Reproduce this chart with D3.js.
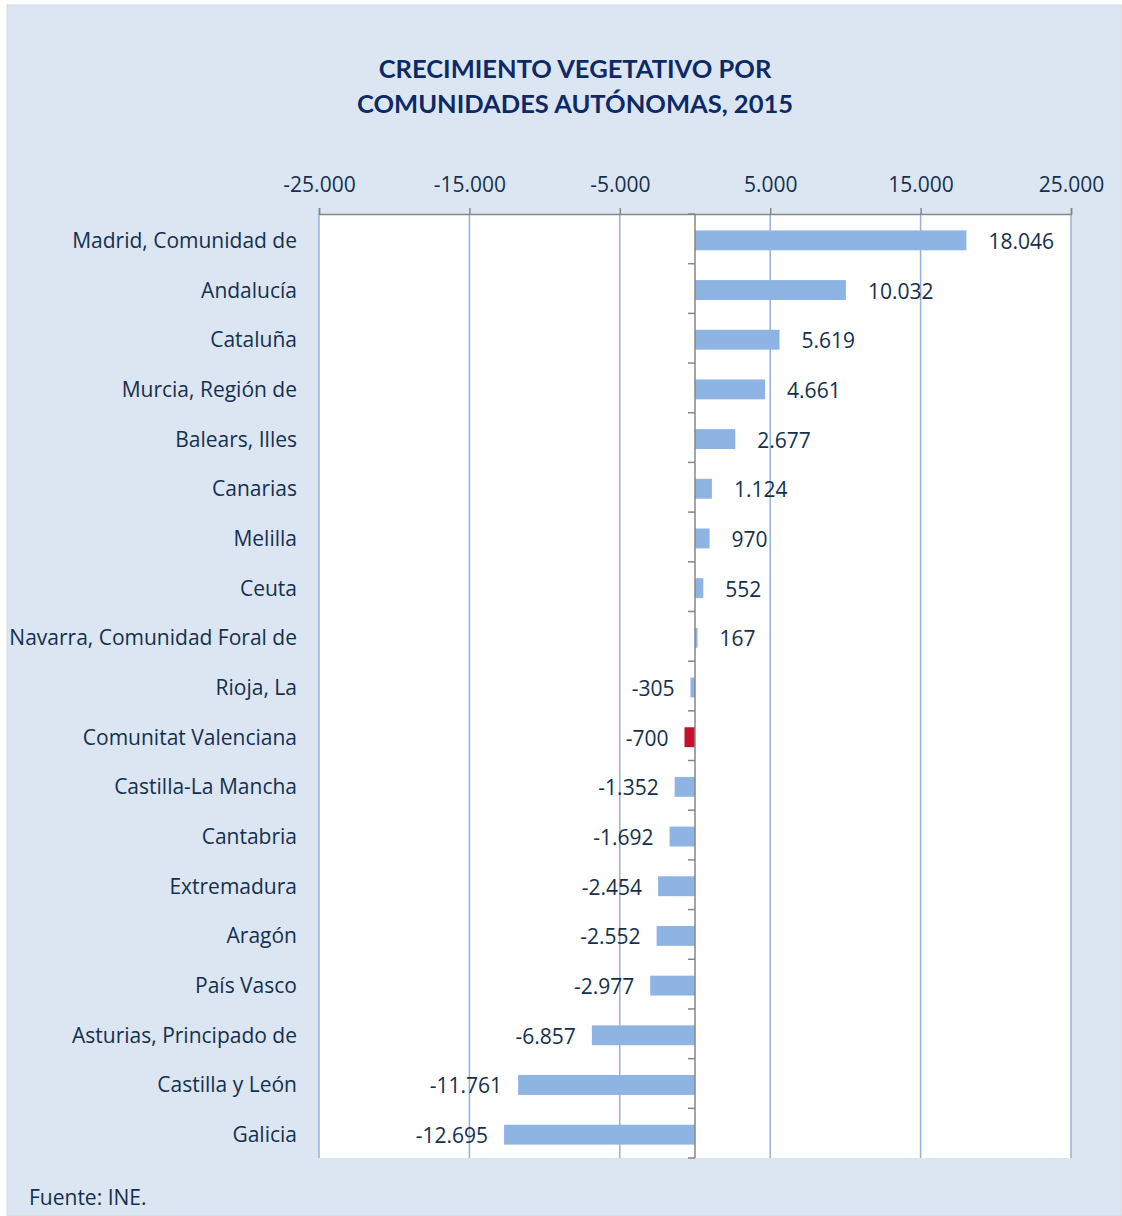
<!DOCTYPE html>
<html>
<head>
<meta charset="utf-8">
<script src="https://cdn.jsdelivr.net/npm/d3@7"></script>
<style>
  body { margin: 0; background: #fff; }
  svg { display: block; font-family: "Open Sans", Lato, sans-serif; }
</style>
</head>
<body>
<div id="chart"></div>
<script>
const titleLines = ["CRECIMIENTO VEGETATIVO POR", "COMUNIDADES AUTÓNOMAS, 2015"];
const regions = [
  "Madrid, Comunidad de", "Andalucía", "Cataluña", "Murcia, Región de",
  "Balears, Illes", "Canarias", "Melilla", "Ceuta",
  "Navarra, Comunidad Foral de", "Rioja, La", "Comunitat Valenciana",
  "Castilla-La Mancha", "Cantabria", "Extremadura", "Aragón",
  "País Vasco", "Asturias, Principado de", "Castilla y León", "Galicia"
];
const values = [
  18046, 10032, 5619, 4661, 2677, 1124, 970, 552, 167, -305, -700,
  -1352, -1692, -2454, -2552, -2977, -6857, -11761, -12695
];
const highlighted = ["Comunitat Valenciana"];
const xTicks = [-25000, -15000, -5000, 5000, 15000, 25000];
const source = "Fuente: INE.";

const width = 1122, height = 1216;
const plot = { left: 319, right: 1071, top: 214, bottom: 1158 };
const textColor = "#14304f";
const fontSize = 21;

const locale = d3.formatLocale({ decimal: ",", thousands: ".", grouping: [3], currency: ["", "€"], minus: "-" });
const fmt = locale.format(",d");

const data = regions.map((r, i) => ({ region: r, value: values[i] }));

const svg = d3.select("#chart").append("svg")
  .attr("width", width)
  .attr("height", height);

// chart background
svg.append("rect")
  .attr("x", 7).attr("y", 5)
  .attr("width", width - 7).attr("height", height - 5)
  .attr("fill", "#dce6f2")
  .attr("stroke", "#d9d9d9");

svg.append("g")
  .selectAll("text")
  .data(titleLines)
  .join("text")
  .attr("x", 575)
  .attr("y", (d, i) => 68 + i * 35)
  .attr("text-anchor", "middle")
  .attr("dominant-baseline", "central")
  .attr("font-family", "Lato, sans-serif")
  .attr("font-size", 25.5)
  .attr("font-weight", "bold")
  .attr("fill", "#0e2a66")
  .text(d => d);

const x = d3.scaleLinear().domain([-25000, 25000]).range([plot.left, plot.right]);
const y = d3.scaleBand().domain(regions).range([plot.top, plot.bottom])
  .paddingInner(0.6).paddingOuter(0.3);

// plot area
svg.append("rect")
  .attr("x", plot.left).attr("y", plot.top)
  .attr("width", plot.right - plot.left).attr("height", plot.bottom - plot.top)
  .attr("fill", "#fff");

// gridlines
svg.append("g")
  .selectAll("line")
  .data(xTicks)
  .join("line")
  .attr("x1", d => x(d)).attr("x2", d => x(d))
  .attr("y1", plot.top).attr("y2", plot.bottom)
  .attr("stroke", "#95b3d7")
  .attr("stroke-width", 1.5);

// bars
svg.append("g")
  .selectAll("rect")
  .data(data)
  .join("rect")
  .attr("x", d => Math.min(x(0), x(d.value)))
  .attr("y", d => y(d.region) + 1.5)
  .attr("width", d => Math.abs(x(d.value) - x(0)))
  .attr("height", y.bandwidth())
  .attr("fill", d => highlighted.includes(d.region) ? "#c8102e" : "#8eb4e3");

// top axis
const xAxis = svg.append("g")
  .attr("transform", `translate(0,${plot.top})`)
  .call(d3.axisTop(x).tickValues(xTicks).tickFormat(fmt).tickSize(6).tickSizeOuter(6));
xAxis.select(".domain").attr("stroke", "#868686").attr("stroke-width", 1.5);
xAxis.selectAll(".tick line").attr("stroke", "#868686").attr("stroke-width", 1.5);
xAxis.selectAll(".tick text")
  .attr("font-size", fontSize)
  .attr("font-family", "'Open Sans', Lato, sans-serif")
  .attr("fill", textColor)
  .attr("y", -29)
  .attr("dy", "0.35em");

// zero axis with category boundary ticks
const zero = svg.append("g");
zero.append("line")
  .attr("x1", x(0)).attr("x2", x(0))
  .attr("y1", plot.top).attr("y2", plot.bottom)
  .attr("stroke", "#868686").attr("stroke-width", 1.5);
const bounds = d3.range(regions.length + 1).map(i => plot.top + i * y.step());
zero.selectAll("line.b")
  .data(bounds)
  .join("line")
  .attr("class", "b")
  .attr("x1", x(0) - 7).attr("x2", x(0))
  .attr("y1", d => d).attr("y2", d => d)
  .attr("stroke", "#868686").attr("stroke-width", 1.5);

// category labels
svg.append("g")
  .selectAll("text")
  .data(regions)
  .join("text")
  .attr("x", 297)
  .attr("y", d => y(d) + y.bandwidth() / 2 + 1)
  .attr("text-anchor", "end")
  .attr("dominant-baseline", "central")
  .attr("font-size", fontSize)
  .attr("fill", textColor)
  .text(d => d);

// value labels
svg.append("g")
  .selectAll("text")
  .data(data)
  .join("text")
  .attr("x", d => d.value >= 0 ? x(d.value) + 22 : x(d.value) - 16)
  .attr("y", d => y(d.region) + y.bandwidth() / 2 + 2)
  .attr("text-anchor", d => d.value >= 0 ? "start" : "end")
  .attr("dominant-baseline", "central")
  .attr("font-size", fontSize)
  .attr("fill", textColor)
  .text(d => fmt(d.value));

svg.append("text")
  .attr("x", 29).attr("y", 1197)
  .attr("dominant-baseline", "central")
  .attr("font-size", fontSize)
  .attr("fill", textColor)
  .text(source);
</script>
</body>
</html>
